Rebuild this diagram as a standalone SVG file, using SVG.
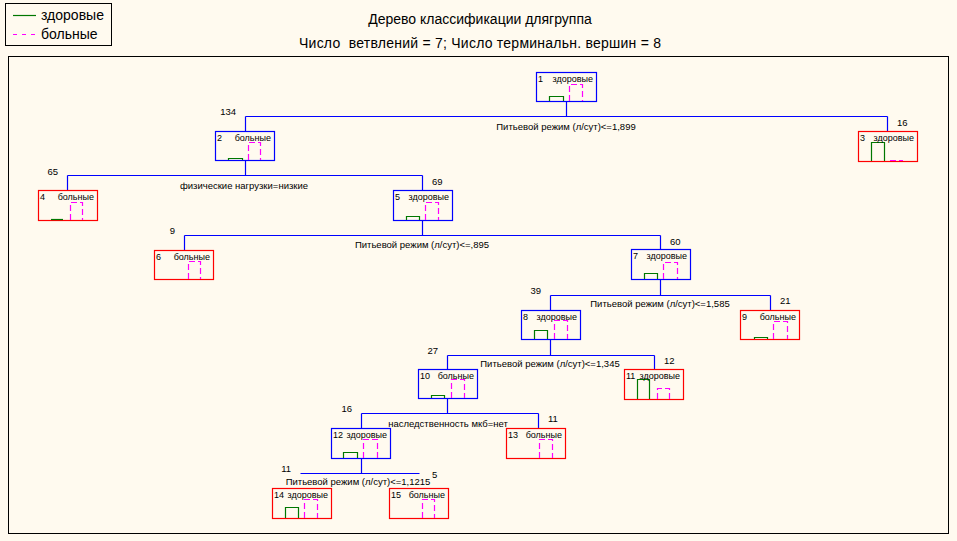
<svg xmlns="http://www.w3.org/2000/svg" width="957" height="541" viewBox="0 0 957 541">
<style>
.bg{fill:#FFFAEF}
.frame{fill:none;stroke:#000;stroke-width:1}
.nb{fill:none;stroke:#0000FF;stroke-width:1.2}
.nr{fill:none;stroke:#FF0000;stroke-width:1.2}
.g{fill:none;stroke:#007700;stroke-width:1.2}
.m{fill:none;stroke:#FF00FF;stroke-width:1.2;stroke-dasharray:6,3}
.c{fill:none;stroke:#0000FF;stroke-width:1.2}
text{font-family:"Liberation Sans",Arial,sans-serif;fill:#000}
.t{font-size:9px}
.lbl{font-size:9.5px}
.cond{font-size:9.5px;text-anchor:middle}
.title{font-size:14px;text-anchor:middle}
.leg{font-size:14px}
</style>
<rect class="bg" x="0" y="0" width="957" height="541"/>
<rect class="frame" x="8.5" y="56.5" width="940" height="477"/>
<g id="legend">
<rect class="frame" x="5.5" y="3.5" width="106" height="42"/>
<line x1="13" y1="15.5" x2="36" y2="15.5" stroke="#007700" stroke-width="1.2"/>
<text class="leg" x="41" y="20">здоровые</text>
<line x1="13" y1="34.5" x2="36" y2="34.5" stroke="#FF00FF" stroke-width="1.2" stroke-dasharray="4,5"/>
<text class="leg" x="41" y="39">больные</text>
</g>
<g id="title">
<text class="title" x="480" y="24">Дерево классификации длягруппа</text>
<text class="title" x="480" y="48" xml:space="preserve" textLength="362">Число  ветвлений = 7; Число терминальн. вершин = 8</text>
</g>
<g id="connectors">
<path class="c" d="M566.5,101 V116.5 M245.5,116.5 H887.5 M245.5,116.5 V131 M887.5,116.5 V131"/>
<path class="c" d="M245.5,160 V175.5 M67.5,175.5 H422.5 M67.5,175.5 V190 M422.5,175.5 V190"/>
<path class="c" d="M422.5,220 V235.5 M184.5,235.5 H660.5 M184.5,235.5 V250 M660.5,235.5 V249"/>
<path class="c" d="M660.5,279 V295.5 M550.5,295.5 H770.5 M550.5,295.5 V310 M770.5,295.5 V310"/>
<path class="c" d="M550.5,339 V355.5 M447.5,355.5 H654.5 M447.5,355.5 V369 M654.5,355.5 V369"/>
<path class="c" d="M447.5,398 V413.5 M361.5,413.5 H538.5 M361.5,413.5 V428 M538.5,413.5 V428"/>
<path class="c" d="M361.5,458 V473.5 M300.5,473.5 H419.5"/>
<text class="lbl" x="236" y="115" text-anchor="end">134</text>
<text class="lbl" x="897" y="126">16</text>
<text class="cond" x="566" y="130">Питьевой режим (л/сут)&lt;=1,899</text>
<text class="lbl" x="58" y="175" text-anchor="end">65</text>
<text class="lbl" x="432" y="185">69</text>
<text class="cond" x="244" y="189">физические нагрузки=низкие</text>
<text class="lbl" x="175" y="234" text-anchor="end">9</text>
<text class="lbl" x="670" y="245">60</text>
<text class="cond" x="422" y="248">Питьевой режим (л/сут)&lt;=,895</text>
<text class="lbl" x="541" y="294" text-anchor="end">39</text>
<text class="lbl" x="780" y="304">21</text>
<text class="cond" x="660" y="307">Питьевой режим (л/сут)&lt;=1,585</text>
<text class="lbl" x="438" y="354" text-anchor="end">27</text>
<text class="lbl" x="664" y="364">12</text>
<text class="cond" x="550" y="367">Питьевой режим (л/сут)&lt;=1,345</text>
<text class="lbl" x="352" y="412" text-anchor="end">16</text>
<text class="lbl" x="548" y="422">11</text>
<text class="cond" x="448" y="427">наследственность мкб=нет</text>
<text class="lbl" x="291" y="472" text-anchor="end">11</text>
<text class="cond" x="358" y="485">Питьевой режим (л/сут)&lt;=1,1215</text>
<text class="lbl" x="432" y="478">5</text>
</g>
<g id="node1">
<rect class="nb" x="536.5" y="72.5" width="60" height="29"/>
<path class="g" d="M549.5,101 V96.5 H563.5 V101"/>
<path class="m" d="M569.5,101 V84.5 H582.5 V101"/>
<text class="t" x="538" y="82">1</text><text class="t" x="593" y="82" text-anchor="end">здоровые</text>
</g>
<g id="node2">
<rect class="nb" x="215.5" y="131.5" width="59" height="29"/>
<path class="g" d="M228.5,160 V158.5 H242.5 V160"/>
<path class="m" d="M248.5,160 V142.5 H260.5 V160"/>
<text class="t" x="217" y="141">2</text><text class="t" x="271" y="141" text-anchor="end">больные</text>
</g>
<g id="node3">
<rect class="nr" x="858.5" y="131.5" width="59" height="30"/>
<path class="g" d="M871.5,161 V142.5 H884.5 V161"/>
<path class="m" d="M890,160.5 H903"/>
<text class="t" x="860" y="141">3</text><text class="t" x="914" y="141" text-anchor="end">здоровые</text>
</g>
<g id="node4">
<rect class="nr" x="38.5" y="190.5" width="59" height="30"/>
<path class="g" d="M51,219.5 H63"/>
<path class="m" d="M70.5,220 V202.5 H82.5 V220"/>
<text class="t" x="40" y="200">4</text><text class="t" x="94" y="200" text-anchor="end">больные</text>
</g>
<g id="node5">
<rect class="nb" x="393.5" y="190.5" width="59" height="30"/>
<path class="g" d="M406.5,220 V216.5 H419.5 V220"/>
<path class="m" d="M425.5,220 V202.5 H438.5 V220"/>
<text class="t" x="395" y="200">5</text><text class="t" x="449" y="200" text-anchor="end">здоровые</text>
</g>
<g id="node6">
<rect class="nr" x="154.5" y="250.5" width="59" height="29"/>
<path class="m" d="M188.5,279 V261.5 H200.5 V279"/>
<text class="t" x="156" y="260">6</text><text class="t" x="210" y="260" text-anchor="end">больные</text>
</g>
<g id="node7">
<rect class="nb" x="631.5" y="249.5" width="59" height="30"/>
<path class="g" d="M644.5,279 V273.5 H657.5 V279"/>
<path class="m" d="M663.5,279 V262.5 H677.5 V279"/>
<text class="t" x="633" y="259">7</text><text class="t" x="687" y="259" text-anchor="end">здоровые</text>
</g>
<g id="node8">
<rect class="nb" x="521.5" y="310.5" width="59" height="29"/>
<path class="g" d="M534.5,339 V330.5 H547.5 V339"/>
<path class="m" d="M554.5,339 V320.5 H567.5 V339"/>
<text class="t" x="523" y="320">8</text><text class="t" x="577" y="320" text-anchor="end">здоровые</text>
</g>
<g id="node9">
<rect class="nr" x="740.5" y="310.5" width="59" height="29"/>
<path class="g" d="M754.5,339 V337.5 H767.5 V339"/>
<path class="m" d="M773.5,339 V321.5 H787.5 V339"/>
<text class="t" x="742" y="320">9</text><text class="t" x="796" y="320" text-anchor="end">больные</text>
</g>
<g id="node10">
<rect class="nb" x="418.5" y="369.5" width="59" height="29"/>
<path class="g" d="M431.5,398 V395.5 H444.5 V398"/>
<path class="m" d="M451.5,398 V379.5 H464.5 V398"/>
<text class="t" x="420" y="379">10</text><text class="t" x="474" y="379" text-anchor="end">больные</text>
</g>
<g id="node11">
<rect class="nr" x="624.5" y="369.5" width="59" height="30"/>
<path class="g" d="M637.5,399 V379.5 H649.5 V399"/>
<path class="m" d="M657.5,399 V388.5 H669.5 V399"/>
<text class="t" x="626" y="379">11</text><text class="t" x="680" y="379" text-anchor="end">здоровые</text>
</g>
<g id="node12">
<rect class="nb" x="331.5" y="428.5" width="59" height="30"/>
<path class="g" d="M343.5,458 V452.5 H357.5 V458"/>
<path class="m" d="M363.5,458 V439.5 H377.5 V458"/>
<text class="t" x="333" y="438">12</text><text class="t" x="387" y="438" text-anchor="end">здоровые</text>
</g>
<g id="node13">
<rect class="nr" x="506.5" y="428.5" width="59" height="30"/>
<path class="m" d="M539.5,458 V439.5 H552.5 V458"/>
<text class="t" x="508" y="438">13</text><text class="t" x="562" y="438" text-anchor="end">больные</text>
</g>
<g id="node14">
<rect class="nr" x="272.5" y="488.5" width="59" height="30"/>
<path class="g" d="M285.5,518 V507.5 H298.5 V518"/>
<path class="m" d="M304.5,518 V499.5 H317.5 V518"/>
<text class="t" x="274" y="498">14</text><text class="t" x="328" y="498" text-anchor="end">здоровые</text>
</g>
<g id="node15">
<rect class="nr" x="389.5" y="488.5" width="59" height="30"/>
<path class="m" d="M422.5,518 V499.5 H434.5 V518"/>
<text class="t" x="391" y="498">15</text><text class="t" x="445" y="498" text-anchor="end">больные</text>
</g>
</svg>
